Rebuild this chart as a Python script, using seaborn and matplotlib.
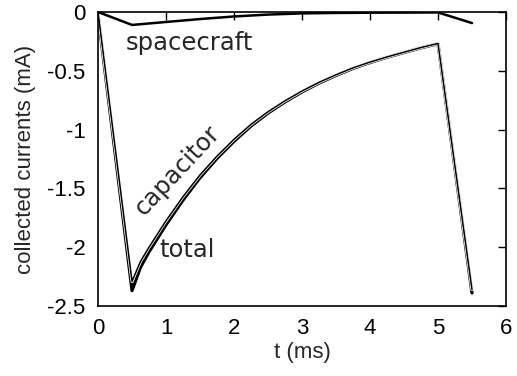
import seaborn as sns
import matplotlib.pyplot as plt
import pandas as pd

# values (time in ms, current in mA)
t_main = [0, 0.5, 0.625, 0.75, 1.0, 1.25, 1.5, 1.75, 2.0, 2.25, 2.5, 2.75, 3.0,
          3.25, 3.5, 3.75, 4.0, 4.25, 4.5, 4.75, 5.0, 5.5]
total = [-0.02, -2.37, -2.17, -2.04, -1.81, -1.60, -1.41, -1.245, -1.10, -0.97,
         -0.86, -0.765, -0.68, -0.605, -0.54, -0.48, -0.43, -0.385, -0.345,
         -0.305, -0.27, -2.39]
capacitor = [0.0, -2.29, -2.12, -2.0, -1.775, -1.57, -1.385, -1.225, -1.082,
             -0.955, -0.848, -0.755, -0.672, -0.598, -0.534, -0.475, -0.426,
             -0.382, -0.342, -0.302, -0.267, -2.36]

t_sc = [0, 0.25, 0.5, 1.0, 1.5, 2.0, 2.5, 3.0, 3.5, 4.0, 4.5, 5.0, 5.5]
spacecraft = [0.0, -0.055, -0.11, -0.085, -0.06, -0.038, -0.022, -0.012,
              -0.008, -0.006, -0.005, -0.004, -0.094]

main = pd.DataFrame({"t": t_main, "total": total, "capacitor": capacitor})
sc = pd.DataFrame({"t": t_sc, "spacecraft": spacecraft})

sns.set_style("white")
plt.rcParams["font.family"] = ["Liberation Sans", "DejaVu Sans"]
plt.rcParams["axes.unicode_minus"] = False

fig = plt.figure(figsize=(5.17, 3.76), dpi=100)
ax = fig.add_axes([0.1896, 0.1862, 0.7891, 0.7819])

sns.lineplot(data=main, x="t", y="total", color="black", linewidth=2.3, ax=ax)
sns.lineplot(data=main, x="t", y="capacitor", color="white", linewidth=2.2, ax=ax)
sns.lineplot(data=main, x="t", y="capacitor", color="black", linewidth=1.1, ax=ax)
sns.lineplot(data=sc, x="t", y="spacecraft", color="black", linewidth=1.8, ax=ax)

ax.set_xlim(0, 6)
ax.set_ylim(-2.5, 0)
ax.set_xticks([0, 1, 2, 3, 4, 5, 6])
ax.set_yticks([-2.5, -2, -1.5, -1, -0.5, 0])
ax.set_yticklabels(["-2.5", "-2", "-1.5", "-1", "-0.5", "0"])
ax.tick_params(direction="in", length=6, width=1, top=True, right=True,
               labelsize=16, pad=9, colors="black")
for s in ax.spines.values():
    s.set_color("black")
    s.set_linewidth(1.2)

ax.set_xlabel("t (ms)", fontsize=16, labelpad=2)
ax.set_ylabel("collected currents (mA)", fontsize=16, labelpad=8)

ax.text(1.34, -0.26, "spacecraft", fontsize=17.5, family="DejaVu Sans",
        ha="center", va="center")
ax.text(1.17, -1.35, "capacitor", fontsize=17.5, family="DejaVu Sans",
        ha="center", va="center", rotation=47)
ax.text(1.31, -2.02, "total", fontsize=17.5, family="DejaVu Sans",
        ha="center", va="center")

fig.savefig("out.png", dpi=100)
